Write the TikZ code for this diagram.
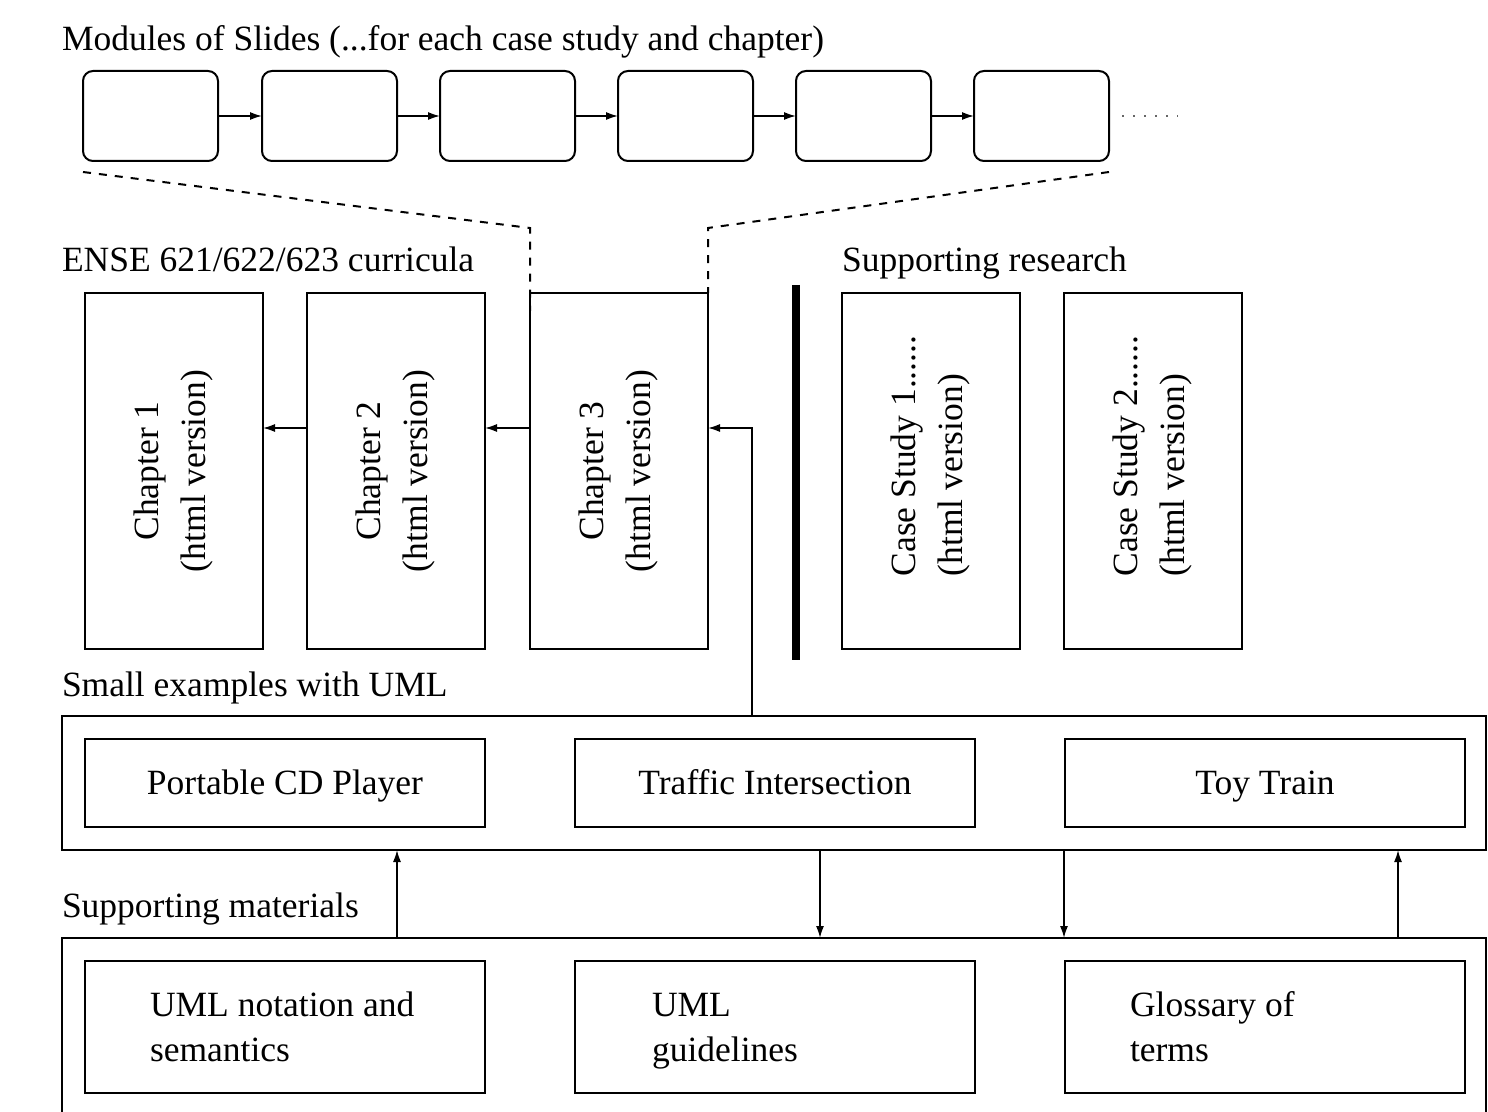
\documentclass[tikz,border=0pt]{standalone}
\usepackage{fontspec}
\setmainfont{Liberation Serif}
\usetikzlibrary{arrows.meta}
\begin{document}
\begin{tikzpicture}[x=0.5pt,y=-0.5pt,
  every node/.style={font=\fontsize{17.75}{22.5}\selectfont, inner sep=0pt, outer sep=0pt},
  slide/.style={draw, line width=1pt, rounded corners=5pt, minimum width=67.5pt, minimum height=45pt},
  tall/.style={draw, line width=1pt, minimum width=89pt, minimum height=178pt},
  exbox/.style={draw, line width=1pt, minimum width=200pt, minimum height=44pt, text height=13.5pt, text depth=2.5pt},
  matbox/.style={draw, line width=1pt, minimum width=200pt, minimum height=66pt},
  mattext/.style={anchor=base west, align=left},
  cont/.style={draw, line width=1pt, minimum width=712pt},
  vtext/.style={rotate=90, font=\fontsize{17.75}{23.5}\selectfont},
  lbl/.style={anchor=base west},
  arr/.style={line width=0.8pt, -{Latex[length=6pt,width=4pt]}},
  dashline/.style={line width=1pt, dash pattern=on 4pt off 4pt}
]
\useasboundingbox (0,0) rectangle (1488,1112);
\clip (0,0) rectangle (1488,1112);

% Slides
\node[lbl] (tslides) at (62,51) {Modules of Slides (...for each case study and chapter)};
\node[slide] (s1) at (150.5,116) {};
\node[slide] (s2) at (329.5,116) {};
\node[slide] (s3) at (507.5,116) {};
\node[slide] (s4) at (685.5,116) {};
\node[slide] (s5) at (863.5,116) {};
\node[slide] (s6) at (1041.5,116) {};
\foreach \a/\b in {s1/s2,s2/s3,s3/s4,s4/s5,s5/s6}
  \draw[arr] (\a.east) -- (\b.west);
\coordinate (dots) at (1122,116);
\draw[line width=0.9pt, black!60, dash pattern=on 1pt off 4.5pt] (dots) -- ++(56,0);

% Curricula
\node[lbl] (tense) at (62,272) {ENSE 621/622/623 curricula};
\node[tall] (ch1) at (174,471) {};
\node[tall] (ch2) at (396,471) {};
\node[tall] (ch3) at (619,471) {};
\node[vtext, align=center] (ch1t) at (173,471) {Chapter 1\\(html version)};
\node[vtext, align=center] (ch2t) at (395,471) {Chapter 2\\(html version)};
\node[vtext, align=center] (ch3t) at (618,471) {Chapter 3\\(html version)};

% Dashed zoom lines
\coordinate (dl1) at (83,172);
\coordinate (dl2) at (530,228);
\coordinate (dr1) at (1109,172);
\coordinate (dr2) at (708,228);
\draw[dashline] (dl1) -- (dl2) -- ([yshift=-9pt]ch3.north west);
\draw[dashline] (dr1) -- (dr2) -- (ch3.north east);

% Thick separator
\coordinate (bartop) at (796,285);
\coordinate (barbot) at (796,660);
\draw[line width=4pt] (bartop) -- (barbot);

% Supporting research
\node[lbl] (tres) at (842,272) {Supporting research};
\node[tall] (cs1) at (931,471) {};
\node[tall] (cs2) at (1153,471) {};
\node[vtext, align=left] (cs1t) at (930,456) {Case Study 1......\\(html version)};
\node[vtext, align=left] (cs2t) at (1152,456) {Case Study 2......\\(html version)};

% Small examples
\node[lbl] (tsmall) at (62,696) {Small examples with UML};
\node[cont, minimum height=67pt] (small) at (774,783) {};
\node[exbox] (ex1) at (285,783) {Portable CD Player};
\node[exbox] (ex2) at (775,783) {Traffic Intersection};
\node[exbox] (ex3) at (1265,783) {Toy Train};

% Supporting materials
\node[lbl] (tmat) at (62,917) {Supporting materials};
\node[cont, minimum height=95pt] (mats) at (774,1033) {};
\node[matbox] (m1) at (285,1027) {};
\node[matbox] (m2) at (775,1027) {};
\node[matbox] (m3) at (1265,1027) {};
\node[mattext] (m1t) at (150,1061) {UML notation and\\semantics};
\node[mattext] (m2t) at (652,1061) {UML\\guidelines};
\node[mattext] (m3t) at (1130,1061) {Glossary of\\terms};

% Chapter arrows
\coordinate (t1) at (752,428);
\draw[arr] (t1 |- small.north) -- (t1) -- (t1 -| ch3.east);
\draw[arr] (ch3.west |- t1) -- (ch2.east |- t1);
\draw[arr] (ch2.west |- t1) -- (ch1.east |- t1);

% Arrows between containers
\coordinate (a1) at (397,0);
\coordinate (a2) at (820,0);
\coordinate (a3) at (1064,0);
\coordinate (a4) at (1398,0);
\draw[arr] (a1 |- mats.north) -- (a1 |- small.south);
\draw[arr] (a2 |- small.south) -- (a2 |- mats.north);
\draw[arr] (a3 |- small.south) -- (a3 |- mats.north);
\draw[arr] (a4 |- mats.north) -- (a4 |- small.south);
\end{tikzpicture}
\end{document}
